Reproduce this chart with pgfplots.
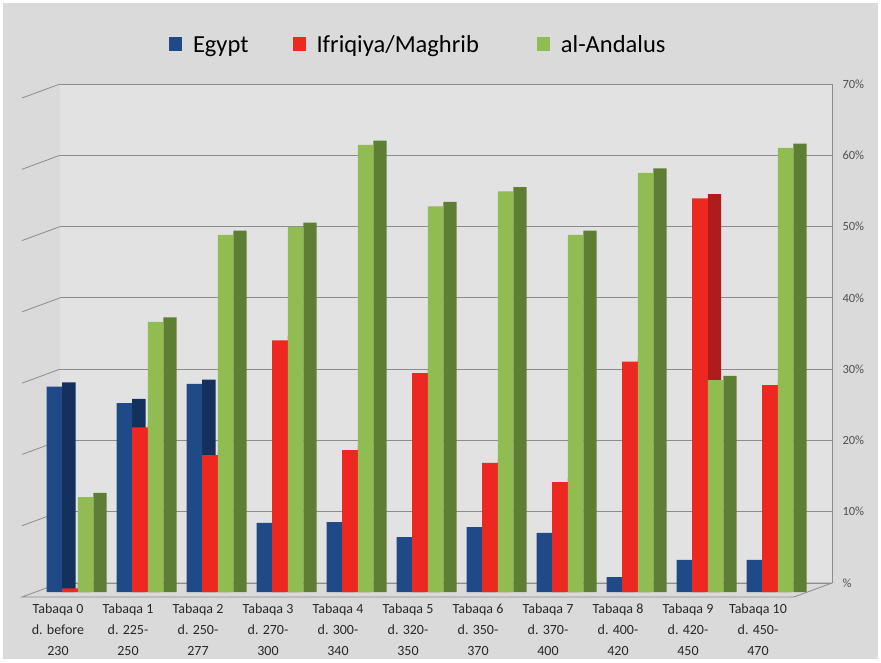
\documentclass[border=0pt]{standalone}
\usepackage{pgfplots}
\usepackage{pgfplotstable}
\pgfplotsset{compat=1.18}
\usepackage{fontspec}
\setmainfont{Carlito}
\definecolor{bg}{RGB}{218,218,218}
\definecolor{wall}{RGB}{226,226,226}
\definecolor{gridc}{RGB}{140,140,140}
\definecolor{egF}{RGB}{31,73,135}
\definecolor{egS}{RGB}{20,48,92}
\definecolor{ifF}{RGB}{236,40,32}
\definecolor{ifS}{RGB}{175,28,28}
\definecolor{anF}{RGB}{144,188,82}
\definecolor{anS}{RGB}{94,126,52}

\pgfplotstableread{
x eg if an
0 28.8 0.5 13.3
1 26.5 23.1 37.9
2 29.2 19.2 50.1
3 9.7 35.3 51.2
4 9.8 19.9 62.7
5 7.7 30.7 54.1
6 9.1 18.1 56.2
7 8.3 15.4 50.1
8 2.1 32.3 58.8
9 4.5 55.2 29.7
10 4.5 29.0 62.3
}\data

\begin{document}
\begin{tikzpicture}[x=1pt,y=1pt]
\fill[white] (0,0) rectangle (881,662);
\fill[bg] (3,3) rectangle (878,659);
% back wall and floor
\fill[wall] (60,79) rectangle (832,578);
\draw[gridc, line width=0.8pt] (60,79) -- (832,79) -- (794,65) -- (22,65) -- cycle;

\begin{axis}[
  at={(60pt,79pt)}, anchor=south west, scale only axis,
  width=772pt, height=499pt,
  xmin=0, xmax=1, ymin=0, ymax=70,
  axis x line=none,
  axis y line*=right,
  y axis line style={gridc, line width=0.8pt},
  ytick={0,10,...,70},
  yticklabels={\%,10\%,20\%,30\%,40\%,50\%,60\%,70\%},
  major tick length=0pt,
  ymajorgrids,
  grid style={gridc, line width=0.8pt},
  yticklabel style={font=\fontsize{12.5}{12.5}\selectfont, text={rgb,255:red,80;green,80;blue,80}, xshift=7pt},
  clip=false,
]
\pgfplotsinvokeforeach{10,20,...,70}{
  \draw[gridc, line width=0.8pt] (axis cs:0,#1) -- ++(-38pt,-14pt);
}
\end{axis}

\begin{axis}[
  at={(21.7pt,70pt)}, anchor=south west, scale only axis,
  width=793.1pt, height=499.1pt,
  xmin=-0.69, xmax=10.64, ymin=0, ymax=70,
  axis line style={draw=none},
  ytick=\empty,
  xtick={0,...,10},
  xticklabels={
    {Tabaqa 0\\d. before\\230},
    {Tabaqa 1\\d. 225-\\250},
    {Tabaqa 2\\d. 250-\\277},
    {Tabaqa 3\\d. 270-\\300},
    {Tabaqa 4\\d. 300-\\340},
    {Tabaqa 5\\d. 320-\\350},
    {Tabaqa 6\\d. 350-\\370},
    {Tabaqa 7\\d. 370-\\400},
    {Tabaqa 8\\d. 400-\\420},
    {Tabaqa 9\\d. 420-\\450},
    {Tabaqa 10\\d. 450-\\470}},
  xticklabel style={align=center, font=\fontsize{14}{21}\selectfont,
    text={rgb,255:red,40;green,40;blue,40}, yshift=-8pt, xshift=-12pt},
  major tick length=0pt,
  ybar, 
  clip=false,
  legend style={at={(0.500,1.096)}, anchor=center, draw=none, fill=none,
    legend columns=3, font=\fontsize{24.5}{24.5}\selectfont,
    /tikz/every odd column/.append style={column sep=9pt},
    /tikz/column 2/.style={column sep=42pt},
    /tikz/column 4/.style={column sep=56pt}},
  legend image code/.code={\path[#1] (0pt,-6pt) rectangle (13pt,8pt);},
]
% side faces
\addplot[fill=egS, draw=none, bar width=0.19, bar shift=-0.016, forget plot] table[x=x,y expr=\thisrow{eg}+0.6] {\data};
\addplot[fill=ifS, draw=none, bar width=0.19, bar shift=0.206, forget plot] table[x=x,y expr=\thisrow{if}+0.6] {\data};
\addplot[fill=anS, draw=none, bar width=0.19, bar shift=0.428, forget plot] table[x=x,y expr=\thisrow{an}+0.6] {\data};
% front faces
\addplot[fill=egF, draw=none, bar width=0.222, bar shift=-0.222] table[x=x,y=eg] {\data};
\addplot[fill=ifF, draw=none, bar width=0.222, bar shift=0] table[x=x,y=if] {\data};
\addplot[fill=anF, draw=none, bar width=0.222, bar shift=0.222] table[x=x,y=an] {\data};
\legend{Egypt, Ifriqiya/Maghrib, al-Andalus}
\end{axis}
\end{tikzpicture}
\end{document}
